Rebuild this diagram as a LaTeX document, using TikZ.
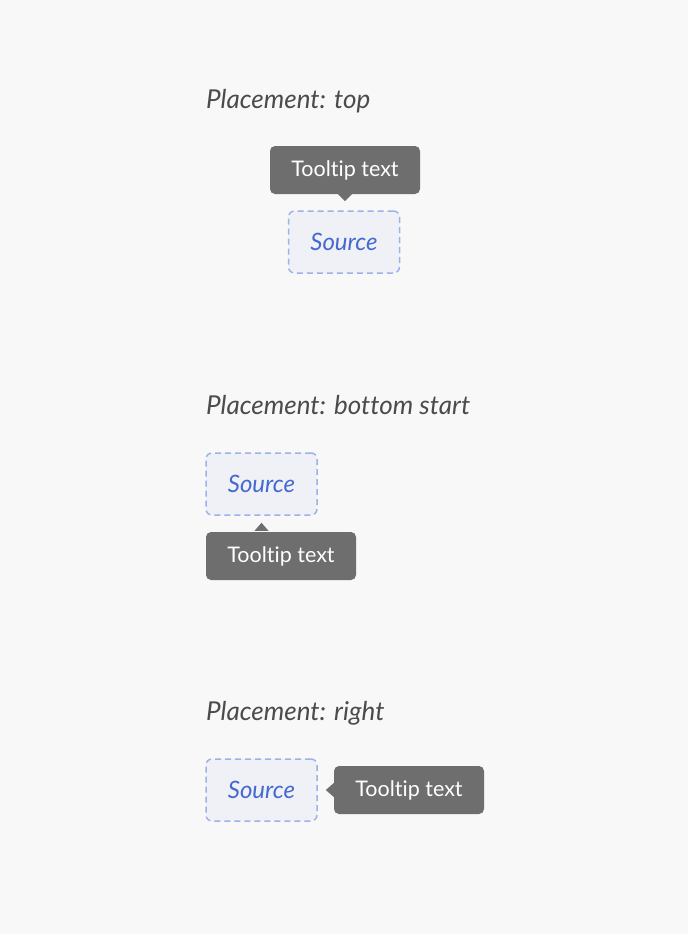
\documentclass[tikz,border=0pt]{standalone}
\usepackage{fontspec}
\setmainfont{Lato}[Ligatures=NoCommon]
\definecolor{pagebg}{HTML}{F8F8F8}
\definecolor{headgray}{HTML}{4B4B4B}
\definecolor{srcblue}{HTML}{4469D0}
\definecolor{srcline}{HTML}{9DB2E8}
\definecolor{srcfill}{HTML}{F0F1F6}
\definecolor{tipgray}{HTML}{6E6E6E}

\begin{document}
\begin{tikzpicture}[x=1pt, y=-1pt,
    heading/.style={anchor=base west, inner sep=0pt, text=headgray,
      font=\fontsize{26}{30}\selectfont\itshape},
    source/.style={draw=srcline, fill=srcfill, line width=1.5pt,
      dash pattern=on 6pt off 4pt, rounded corners=6pt,
      minimum width=111pt, minimum height=62pt, text=srcblue,
      font=\fontsize{24}{28}\selectfont\itshape},
    tooltip/.style={fill=tipgray, rounded corners=5pt, text=white,
      minimum width=150pt, minimum height=48pt,
      font=\fontsize{21.5}{26}\selectfont}]
    % draw background
    \fill[pagebg] (0, 0) rectangle (688, 934);
    \useasboundingbox (0, 0) rectangle (688, 934);

    % draw placement top
    \node[heading] (headtop) at (206, 108) {Placement: top};
    \node[source] (srctop) at (344, 242) {Source};
    \node[tooltip] (tiptop) at (345, 170) {Tooltip text};
    \fill[tipgray] ([xshift=-7pt]tiptop.south) -- ([yshift=-7pt]tiptop.south)
      -- ([xshift=7pt]tiptop.south) -- cycle;

    % draw placement bottom start
    \node[heading] (headbottom) at (206, 414) {Placement: bottom start};
    \node[source] (srcbottom) at (261.5, 484) {Source};
    \node[tooltip] (tipbottom) at (281, 556) {Tooltip text};
    \fill[tipgray] ([yshift=1pt]srcbottom.south |- tipbottom.north) ++(-7, 0)
      -- ++(7, -8) -- ++(7, 8) -- cycle;

    % draw placement right
    \node[heading] (headright) at (206, 720) {Placement: right};
    \node[source] (srcright) at (261.5, 790) {Source};
    \node[tooltip] (tipright) at (409, 790) {Tooltip text};
    \fill[tipgray] ([yshift=-7pt]tipright.west) -- ([xshift=-8pt]tipright.west)
      -- ([yshift=7pt]tipright.west) -- cycle;
\end{tikzpicture}
\end{document}
